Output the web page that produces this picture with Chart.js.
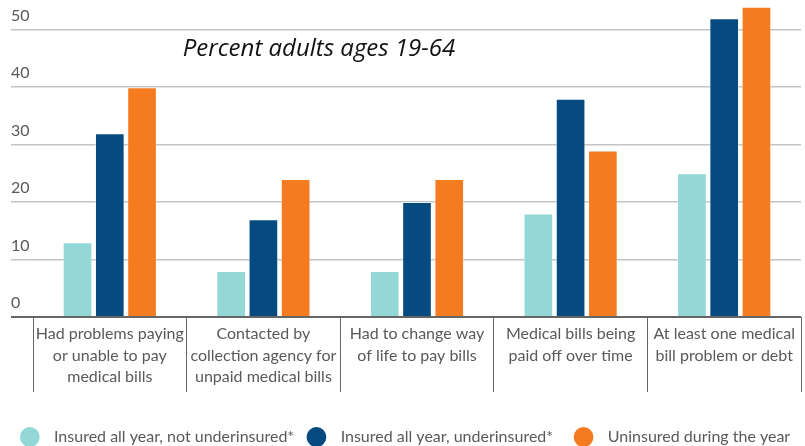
<!DOCTYPE html>
<html>
<head>
<meta charset="utf-8">
<script src="https://cdn.jsdelivr.net/npm/chart.js@4"></script>
<style>
  html, body { margin: 0; padding: 0; background: #fff; }
  #wrap { width: 805px; height: 446px; }
</style>
</head>
<body>
<div id="wrap"><canvas id="chart"></canvas></div>
<script>
// categories (already split into lines the way the picture wraps them)
const categories = [
    ["Had problems paying", "or unable to pay", "medical bills"],
    ["Contacted by", "collection agency for", "unpaid medical bills"],
    ["Had to change way", "of life to pay bills"],
    ["Medical bills being", "paid off over time"],
    ["At least one medical", "bill problem or debt"]
];

const seriesNames = [
    "Insured all year, not underinsured*",
    "Insured all year, underinsured*",
    "Uninsured during the year"
];

const notUnderinsured = [13, 8, 8, 18, 25];
const underinsured = [32, 17, 20, 38, 52];
const uninsured = [40, 24, 24, 29, 54];

const yTicks = [0, 10, 20, 30, 40, 50];
const chartTitle = "Percent adults ages 19-64";

const colors = ["#93D7D6", "#054B80", "#F47B20"];

// gap after each legend entry
const legendTrail = ["   ", "     ", ""];

Chart.defaults.font.family = "Lato, 'Open Sans', sans-serif";
Chart.defaults.font.size = 16;
Chart.defaults.color = "#595959";

// italic label sitting inside the plot
const innerTitle = {
    id: "innerTitle",
    afterDraw(chart) {
        const ctx = chart.ctx;
        const area = chart.chartArea;
        ctx.save();
        ctx.font = "italic 24px 'Open Sans', sans-serif";
        ctx.fillStyle = "#111";
        ctx.textAlign = "center";
        ctx.textBaseline = "middle";
        ctx.fillText(chartTitle, area.left + 286, area.top + 48);
        ctx.restore();
    }
};

const ctx = document.getElementById("chart").getContext("2d");

new Chart(ctx, {
    type: "bar",
    data: {
        labels: categories,
        datasets: [
            { label: seriesNames[0], data: notUnderinsured, backgroundColor: colors[0] },
            { label: seriesNames[1], data: underinsured, backgroundColor: colors[1] },
            { label: seriesNames[2], data: uninsured, backgroundColor: colors[2] }
        ].map(ds => Object.assign(ds, {
            borderColor: "rgba(255,255,255,0.45)",
            borderWidth: 1,
            categoryPercentage: 0.63,
            barPercentage: 0.92
        }))
    },
    options: {
        responsive: true,
        maintainAspectRatio: false,
        animation: false,
        layout: { padding: { top: 1, left: 11, right: 4, bottom: -9 } },
        plugins: {
            tooltip: { enabled: false },
            legend: {
                position: "bottom",
                labels: {
                    usePointStyle: true,
                    pointStyle: "circle",
                    boxHeight: 14,
                    padding: 2,
                    color: "#595959",
                    font: { size: 16 },
                    generateLabels(chart) {
                        const items = Chart.defaults.plugins.legend.labels.generateLabels(chart);
                        items.forEach((item, i) => {
                            item.text = "  " + item.text + legendTrail[i];
                            item.lineWidth = 0;
                        });
                        return items;
                    }
                }
            }
        },
        scales: {
            x: {
                grid: {
                    offset: true,
                    drawOnChartArea: false,
                    tickLength: 75,
                    color: "#666",
                    lineWidth: 1
                },
                border: { display: false },
                ticks: {
                    autoSkip: false,
                    maxRotation: 0,
                    padding: -69,
                    color: "#595959",
                    font: { size: 16, lineHeight: 1.35 }
                },
                afterFit(scale) { scale.height = 110; }
            },
            y: {
                min: 0,
                max: 55,
                border: { display: false },
                grid: {
                    tickLength: 22,
                    color: ctx => ctx.tick && ctx.tick.value === 0 ? "#666" : "#c4c4c4",
                    lineWidth: ctx => ctx.tick && ctx.tick.value === 0 ? 2 : 1.5
                },
                ticks: {
                    stepSize: 10,
                    crossAlign: "far",
                    labelOffset: -14,
                    padding: 0,
                    color: "#595959",
                    font: { size: 16, lineHeight: 0.1 }
                },
                afterBuildTicks(scale) {
                    scale.ticks = yTicks.map(v => ({ value: v }));
                },
                afterFit(scale) { scale.width = 22; }
            }
        }
    },
    plugins: [innerTitle]
});
</script>
</body>
</html>
